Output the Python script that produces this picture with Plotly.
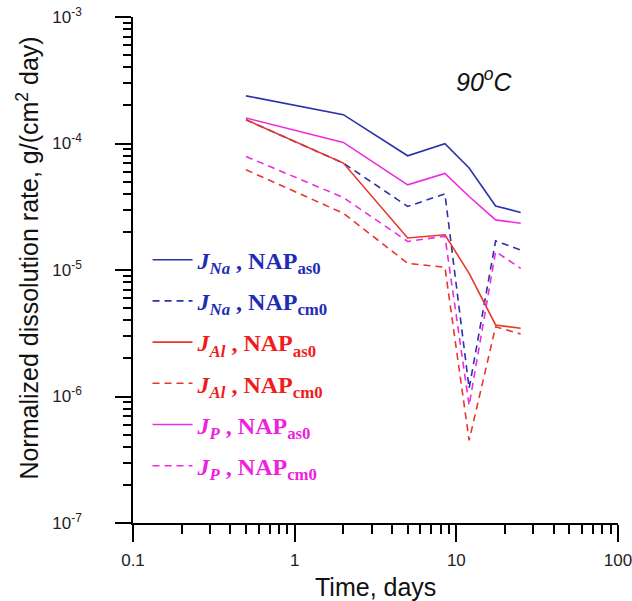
import plotly.graph_objects as go

# Time, days
time_days = [0.5, 2, 5, 8.5, 12, 17.5, 25]

# Normalized dissolution rates, g/(cm2 day)
j_na_as0 = [2.38e-4, 1.69e-4, 8.0e-5, 9.95e-5, 6.4e-5, 3.21e-5, 2.85e-5]
j_na_cm0 = [1.54e-4, 7.0e-5, 3.18e-5, 4.0e-5, 1.16e-6, 1.70e-5, 1.44e-5]
j_al_as0 = [1.54e-4, 7.0e-5, 1.79e-5, 1.90e-5, 9.4e-6, 3.68e-6, 3.46e-6]
j_al_cm0 = [6.2e-5, 2.81e-5, 1.13e-5, 1.05e-5, 4.5e-7, 3.56e-6, 3.12e-6]
j_p_as0 = [1.59e-4, 1.02e-4, 4.71e-5, 5.8e-5, 3.81e-5, 2.49e-5, 2.34e-5]
j_p_cm0 = [7.9e-5, 3.74e-5, 1.68e-5, 1.85e-5, 8.5e-7, 1.40e-5, 1.03e-5]

y_tickvals = [1e-7, 1e-6, 1e-5, 1e-4, 1e-3]
y_ticktext = ["10<sup>-7</sup>", "10<sup>-6</sup>", "10<sup>-5</sup>", "10<sup>-4</sup>", "10<sup>-3</sup>"]
x_tickvals = [0.1, 1, 10, 100]
x_ticktext = ["0.1", "1", "10", "100"]

x_minor = [m * d for d in (0.1, 1, 10) for m in range(2, 10)]
y_minor = [m * d for d in (1e-7, 1e-6, 1e-5, 1e-4) for m in range(2, 10)]

BLUE = "#2B32A8"
RED = "#E8372C"
MAG = "#EE2BE0"
BLUE_T = "#1E2DB4"
RED_T = "#F01C1C"
MAG_T = "#F020E0"

def label(sym, sub, color):
    return (f'<span style="color:{color}"><b><i>J</i><sub><i>{sym}</i></sub> , NAP<sub>{sub}</sub></b></span>')

series = [
    (j_na_as0, BLUE, "solid", label("Na", "as0", BLUE_T)),
    (j_na_cm0, BLUE, "7px,5px", label("Na", "cm0", BLUE_T)),
    (j_al_as0, RED, "solid", label("Al", "as0", RED_T)),
    (j_al_cm0, RED, "7px,5px", label("Al", "cm0", RED_T)),
    (j_p_as0, MAG, "solid", label("P", "as0", MAG_T)),
    (j_p_cm0, MAG, "7px,5px", label("P", "cm0", MAG_T)),
]

fig = go.Figure()
for i, (vals, col, dash, name) in enumerate(series):
    fig.add_trace(go.Scatter(
        x=time_days, y=vals, mode="lines", name=name,
        line=dict(color=col, width=1.6, dash=dash),
        legendgroup=f"g{i}",
    ))

axis_common = dict(
    type="log", showgrid=False, zeroline=False, showline=True,
    linecolor="black", linewidth=1.5, ticks="outside", tickcolor="black",
    tickwidth=1.5, mirror=False, automargin=False, ticklabeloverflow="allow",
)

fig.update_xaxes(
    **axis_common, range=[-1, 2], ticklen=17,
    tickmode="array", tickvals=x_tickvals, ticktext=x_ticktext,
    tickfont=dict(family="Liberation Sans, Arial", size=17, color="#222"),
    ticklabelstandoff=4,
    minor=dict(ticks="outside", ticklen=9, tickcolor="black", tickwidth=1.5,
               tickmode="array", tickvals=x_minor, showgrid=False),
)
fig.update_yaxes(
    **axis_common, range=[-7, -3], ticklen=16,
    tickmode="array", tickvals=y_tickvals, ticktext=y_ticktext,
    tickfont=dict(family="Liberation Sans, Arial", size=17, color="#222"),
    ticklabelstandoff=30,
    minor=dict(ticks="outside", ticklen=8, tickcolor="black", tickwidth=1.5,
               tickmode="array", tickvals=y_minor, showgrid=False),
)

fig.add_annotation(
    text="Time, days", xref="paper", yref="paper",
    x=0.5, y=-0.126, xanchor="center", yanchor="middle", showarrow=False,
    font=dict(family="Liberation Sans, Arial", size=25, color="#111"),
)
fig.add_annotation(
    text="Normalized dissolution rate, g/(cm<sup>2</sup> day)", xref="paper", yref="paper",
    x=-0.217, y=0.524, xanchor="center", yanchor="middle", showarrow=False, textangle=-90,
    font=dict(family="Liberation Sans, Arial", size=25, color="#111"),
)
fig.add_annotation(
    text="<i>90<sup>o</sup>C</i>", xref="paper", yref="paper",
    x=0.724, y=0.876, xanchor="center", yanchor="middle", showarrow=False,
    font=dict(family="Liberation Sans, Arial", size=25, color="#111"),
)

fig.update_layout(
    width=632, height=601,
    margin=dict(l=133, r=14, t=17, b=78, autoexpand=False),
    plot_bgcolor="white", paper_bgcolor="white",
    showlegend=True,
    legend=dict(
        x=0.03, y=0.564, xanchor="left", yanchor="top",
        bgcolor="rgba(0,0,0,0)", borderwidth=0,
        font=dict(family="Liberation Serif, Times New Roman", size=24),
        tracegroupgap=7, itemwidth=40,
    ),
)

fig.write_html("out.html", config={"displayModeBar": False},
               post_script="document.body.style.margin='0';")
